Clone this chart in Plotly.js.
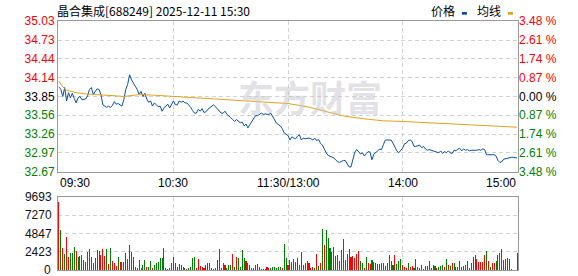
<!DOCTYPE html>
<html><head><meta charset="utf-8">
<script src="https://cdn.plot.ly/plotly-3.0.1.min.js"></script>
<style>html,body{margin:0;padding:0;background:#fff}#chart{width:578px;height:276px}</style>
</head><body><div id="chart"></div>
<script>
const titleText = "晶合集成[688249] 2025-12-11 15:30";
const legendNames = ["价格", "均线"];
const watermark = "东方财富";
const prevClose = 33.85;
const priceTicks = [32.67,32.97,33.26,33.56,33.85,34.14,34.44,34.73,35.03];
const pctLabels = ["3.48","2.61","1.74","0.87","0.00","0.87","1.74","2.61","3.48"];
const volTicks = [0,2423,4847,7270,9693];
const timeLabels = ["09:30","10:30","11:30/13:00","14:00","15:00"];
const timeMinutes = [0,60,120,180,240];

const price = [
34.00,33.96,33.85,33.99,33.78,33.91,33.83,33.90,33.82,33.75,
33.83,33.85,33.80,33.80,33.81,33.86,33.96,33.99,33.88,33.93,
33.97,33.96,33.88,33.72,33.70,33.68,33.70,33.68,33.71,33.77,
33.73,33.74,33.72,33.70,33.80,33.96,34.04,34.19,34.11,34.05,
34.01,33.96,33.88,33.93,33.85,33.90,33.81,33.76,33.78,33.70,
33.75,33.72,33.69,33.70,33.62,33.67,33.70,33.73,33.67,33.72,
33.78,33.72,33.72,33.78,33.76,33.78,33.75,33.75,33.72,33.68,
33.63,33.59,33.59,33.65,33.62,33.66,33.60,33.61,33.65,33.67,
33.70,33.72,33.69,33.66,33.63,33.59,33.59,33.62,33.57,33.55,
33.52,33.49,33.46,33.49,33.46,33.44,33.45,33.39,33.42,33.36,
33.41,33.46,33.52,33.55,33.55,33.57,33.59,33.57,33.58,33.57,
33.57,33.59,33.54,33.49,33.43,33.41,33.39,33.35,33.28,33.26,
33.24,33.17,33.22,33.20,33.19,33.23,33.25,33.17,33.20,33.19,
33.20,33.20,33.19,33.17,33.20,33.16,33.18,33.12,33.09,33.02,
32.97,32.93,32.92,32.91,32.89,32.86,32.83,32.82,32.84,32.85,
32.85,32.79,32.75,32.75,32.86,32.98,33.02,32.98,32.95,32.97,
32.92,32.96,32.99,32.98,32.86,32.95,32.97,33.00,33.03,33.02,
33.10,33.17,33.17,33.17,33.17,33.12,33.05,33.00,32.97,33.00,
33.04,33.11,33.12,33.16,33.17,33.15,33.07,33.07,33.08,33.09,
33.05,33.07,33.03,33.01,33.02,33.01,33.01,33.00,32.98,32.97,
33.00,32.96,32.99,32.97,33.00,32.97,32.96,33.01,33.00,33.03,
33.04,33.00,33.03,33.01,33.02,33.00,33.01,33.01,33.00,33.01,
33.02,33.01,33.03,33.02,32.94,32.94,32.94,32.94,32.94,32.92,
32.85,32.82,32.83,32.87,32.88,32.89,32.90,32.90,32.90,32.89,32.89
];

const avgMinutes = [0,2,4,6,9,14,22,30,34,38,42,50,60,70,80,90,100,110,120,130,140,150,160,170,180,195,210,225,240];
const avgPrice = [34.09,34.00,33.95,33.93,33.91,33.89,33.88,33.86,33.85,33.87,33.88,33.87,33.85,33.84,33.82,33.80,33.78,33.76,33.74,33.69,33.61,33.54,33.50,33.47,33.46,33.44,33.42,33.39,33.37];

const volume = [
9030,5290,2860,2115,4400,1760,2200,2200,3080,2550,
1760,1900,1980,1320,1100,2420,2770,1760,880,1630,
2640,2510,1980,2770,1850,2770,800,2860,1230,880,
530,1760,1100,1100,1100,2200,1450,3300,2420,1760,
440,300,1320,300,660,1320,440,440,1190,220,
660,880,1000,1540,1630,2900,220,130,220,970,
1760,970,370,800,660,440,300,130,220,440,
1630,1760,220,1450,570,440,220,660,880,880,
220,130,300,1320,2770,220,880,660,220,660,
660,2070,440,1760,1630,440,2640,1630,1190,880,
660,300,300,660,830,440,130,130,130,400,
220,220,400,400,300,440,440,220,3390,1540,
660,1320,1100,1410,1100,1630,700,2420,700,970,
1190,880,300,440,220,2115,570,970,5420,3300,
5290,4270,2900,2420,3080,1900,1980,1190,2640,4100,
1320,2115,2770,1760,1900,1630,2115,2510,1190,920,
300,1720,970,800,1320,1100,880,800,800,880,
880,570,880,1980,1190,660,1980,800,1190,1410,
700,440,220,970,440,530,300,1410,370,220,
700,130,530,530,1190,220,660,530,300,440,
570,700,440,1410,700,530,880,880,440,440,
1190,440,570,660,1190,300,880,1760,1980,1410,
1100,1000,1000,1980,2510,1190,440,880,880,1190,
1980,2200,2770,1320,1410,1540,1410,130,0,0,2200
];

const volUp = [
1,0,1,0,1,1,0,0,0,1,
0,0,0,1,1,1,1,0,1,0,
0,0,1,1,1,0,1,0,1,1,
1,0,1,1,1,0,1,0,0,0,
1,1,0,1,0,0,1,0,0,1,
0,0,0,0,0,1,0,1,0,0,
1,0,0,1,1,1,0,1,0,0,
0,0,1,1,1,1,1,1,0,1,
1,1,0,0,0,1,0,1,0,0,
0,1,0,1,0,0,0,0,1,0,
1,0,1,1,1,0,0,0,0,1,
1,0,0,0,0,0,0,1,0,0,
1,1,0,1,0,0,1,0,1,0,
0,1,1,1,0,1,0,1,0,1,
0,0,0,0,1,0,0,1,0,1,
1,0,0,1,1,1,1,1,0,0,
1,0,1,1,0,0,1,1,1,0,
0,1,1,1,1,0,1,0,0,0,
1,1,1,0,1,1,0,0,1,1,
0,1,0,0,0,1,1,0,1,0,
0,0,1,0,1,0,1,0,1,0,
0,1,0,0,1,0,1,0,0,1,
1,1,1,1,0,1,0,1,1,0,
0,0,1,1,1,1,1,0,0,0,0
];

const minutes = price.map((_, i) => i);
const RED = '#ff0000', GREEN = '#008000', BLUE = '#0b4ea2', GOLD = '#e2a11c';
const tickColor = v => Math.abs(v - prevClose) < 0.005 ? '#000000' : (v > prevClose ? RED : GREEN);
const priceText = priceTicks.map(v => `<span style="color:${tickColor(v)}">${v.toFixed(2)}</span>`);
const pctText = priceTicks.map((v, i) => `<span style="color:${tickColor(v)}">${pctLabels[i]} %</span>`);

const traces = [
  {type:'scatter', mode:'lines', x:minutes, y:price, xaxis:'x', yaxis:'y',
   line:{color:BLUE, width:1}, hoverinfo:'skip'},
  {type:'scatter', mode:'lines', x:avgMinutes, y:avgPrice, xaxis:'x', yaxis:'y',
   line:{color:GOLD, width:1}, hoverinfo:'skip'},
  {type:'scatter', mode:'markers', x:[minutes[0]], y:[prevClose], xaxis:'x', yaxis:'y3',
   marker:{opacity:0, size:1}, hoverinfo:'skip'},
  {type:'bar', x:minutes, y:volume, xaxis:'x2', yaxis:'y2', width:0.55,
   marker:{color:volUp.map(u => u ? RED : GREEN), line:{width:0}}, hoverinfo:'skip'}
];

const FONT = 'Liberation Sans, Arial, sans-serif';
const CJK = 'Noto Sans CJK SC, Liberation Sans, sans-serif';
const xr = [-0.5, 240.5];
const grid = {showgrid:true, gridcolor:'#d2d2d2', griddash:'4px,3px', gridwidth:1};
const box = {showline:true, mirror:true, linecolor:'#9a9a9a', linewidth:1, zeroline:false, fixedrange:true};
const volTop = volTicks[volTicks.length - 1];

const layout = {
  width:578, height:276,
  margin:{l:58, r:60, t:21, b:6, pad:0},
  paper_bgcolor:'#ffffff', plot_bgcolor:'#ffffff',
  showlegend:false,
  font:{family:FONT, size:12, color:'#000'},
  xaxis:Object.assign({domain:[0,1], anchor:'y', range:xr, tickvals:[60,120,180], showticklabels:false, ticks:''}, grid, box),
  yaxis:Object.assign({domain:[0.3936,1], anchor:'x', range:[priceTicks[0], priceTicks[priceTicks.length-1]],
    tickvals:priceTicks, ticktext:priceText, ticks:'', ticklabeloverflow:'allow', tickfont:{family:FONT, size:12}}, grid, box),
  yaxis3:{overlaying:'y', side:'right', anchor:'x', range:[priceTicks[0], priceTicks[priceTicks.length-1]],
    tickvals:priceTicks, ticktext:pctText, ticks:'', showgrid:false, showline:false, zeroline:false,
    ticklabeloverflow:'allow', tickfont:{family:FONT, size:12}, fixedrange:true},
  xaxis2:Object.assign({domain:[0,1], anchor:'y2', range:xr, tickvals:[60,120,180], showticklabels:false, ticks:''}, grid, box),
  yaxis2:Object.assign({domain:[0,0.2944], anchor:'x2', range:[volTicks[0], volTop],
    tickvals:volTicks.slice(1), ticktext:volTicks.slice(1).map(String), ticks:'', ticklabeloverflow:'allow',
    ticklabelstandoff:3, tickfont:{family:FONT, size:12, color:'#111'}}, grid, box),
  bargap:0,
  annotations:[
    {text:titleText, xref:'paper', yref:'paper', x:-0.006, y:1.044, xanchor:'left', yanchor:'middle', showarrow:false,
     font:{family:CJK, size:12, color:'#000'}},
    {text:legendNames[0], xref:'paper', yref:'paper', x:0.837, y:1.044, xanchor:'center', yanchor:'middle', showarrow:false,
     font:{family:CJK, size:12, color:'#000'}},
    {text:legendNames[1], xref:'paper', yref:'paper', x:0.937, y:1.044, xanchor:'center', yanchor:'middle', showarrow:false,
     font:{family:CJK, size:12, color:'#000'}},
    {text:String(volTicks[0]), xref:'paper', yref:'y2', x:-0.0125, y:volTicks[0], xanchor:'right', yanchor:'middle',
     showarrow:false, borderpad:0, font:{family:FONT, size:12, color:'#111'}},
    {text:watermark, xref:'paper', yref:'paper', x:0.548, y:0.70, xanchor:'center', yanchor:'middle', showarrow:false,
     font:{family:CJK, size:36, color:'rgba(196,196,206,0.5)', weight:700}}
  ].concat(timeLabels.map((t, i) => ({
     text:t, xref:'x', yref:'paper', x:timeMinutes[i] + (i===0 ? -0.5 : (i===timeLabels.length-1 ? 0.5 : 0)),
     y:0.349, xanchor: i===0 ? 'left' : (i===timeLabels.length-1 ? 'right' : 'center'),
     yanchor:'middle', showarrow:false, font:{family:FONT, size:12, color:'#000'}}))),
  shapes:[
    {type:'rect', xref:'paper', yref:'paper', x0:0.878, x1:0.889, y0:1.0253, y1:1.0361, fillcolor:BLUE, line:{width:0}},
    {type:'rect', xref:'paper', yref:'paper', x0:0.978, x1:0.989, y0:1.0253, y1:1.0361, fillcolor:GOLD, line:{width:0}}
  ]
};

Plotly.newPlot('chart', traces, layout, {staticPlot:true, displayModeBar:false});
</script>
</body></html>
